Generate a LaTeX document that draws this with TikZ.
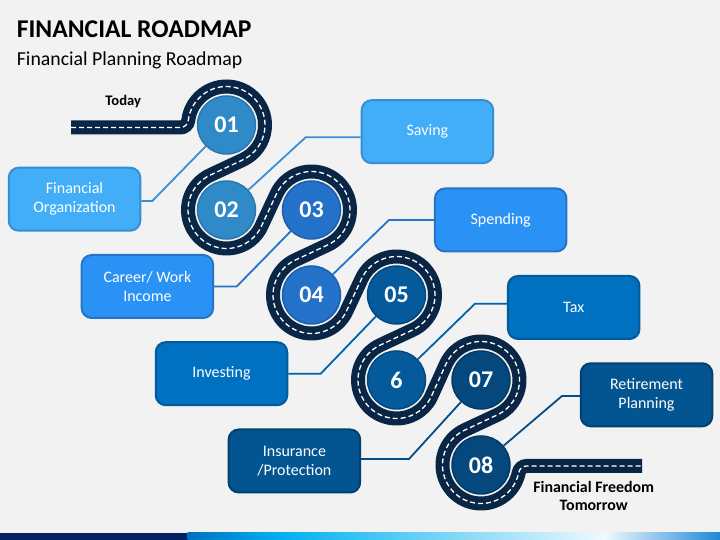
\documentclass[tikz,border=0pt]{standalone}
\usepackage{fontspec}
\setmainfont{Carlito}
\usetikzlibrary{calc,backgrounds}
\definecolor{bg}{HTML}{F2F2F2}
\definecolor{roadc}{HTML}{0A2646}
\definecolor{cA}{HTML}{308AC8}\definecolor{cAb}{HTML}{2A76B0}
\definecolor{cB}{HTML}{2371C8}\definecolor{cBb}{HTML}{1D5FA8}
\definecolor{cC}{HTML}{055A9B}\definecolor{cCb}{HTML}{044A80}
\definecolor{cD}{HTML}{05487D}\definecolor{cDb}{HTML}{033A66}
\definecolor{bA}{HTML}{42AEF7}\definecolor{bAb}{HTML}{358FD2}
\definecolor{bB}{HTML}{2A91F5}\definecolor{bBb}{HTML}{2474C8}
\definecolor{bC}{HTML}{0070C0}\definecolor{bCb}{HTML}{005A9C}
\definecolor{bD}{HTML}{035592}\definecolor{bDb}{HTML}{01406F}
\definecolor{lA}{HTML}{3A8FD4}\definecolor{lB}{HTML}{2474C8}
\definecolor{lC}{HTML}{0062A8}\definecolor{lD}{HTML}{064C84}
\definecolor{barnavy}{HTML}{002060}\definecolor{barcyan}{HTML}{00B0F0}
\definecolor{barwhite}{HTML}{F0F9FE}\definecolor{barend}{HTML}{1E88D8}
\tikzset{
  num/.style={circle, minimum size=58pt, inner sep=0pt, line width=1.5pt, text=white,
    font=\fontsize{24}{28}\selectfont\bfseries},
  box/.style={rectangle, rounded corners=10pt, minimum width=131.5pt, minimum height=63pt,
    line width=2pt, text=white, align=center, font=\fontsize{16}{19.2}\selectfont},
  link/.style={line width=1.8pt},
}
\begin{document}
\begin{tikzpicture}[x=1pt,y=1pt]
\useasboundingbox (0,0) rectangle (720,540);
% titles
\node[anchor=base west, inner sep=0pt, font=\fontsize{25.6}{30}\selectfont\bfseries] (title) at (16.7,502.7) {FINANCIAL ROADMAP};
\node[anchor=base west, inner sep=0pt, font=\fontsize{19.8}{24}\selectfont] (sub) at (16.7,474.3) {Financial Planning Roadmap};
\node[anchor=base, inner sep=0pt, font=\fontsize{14.6}{17}\selectfont\bfseries] (today) at (123.2,434) {Today};
\node[align=center, inner sep=0pt, font=\fontsize{15.9}{18.3}\selectfont\bfseries] (free) at (593.7,44) {Financial Freedom\\Tomorrow};
% circle centres
\coordinate (p1) at (226.5,415);
\coordinate (p2) at (226.5,330);
\coordinate (p3) at (311.5,330);
\coordinate (p4) at (311.5,245);
\coordinate (p5) at (396.5,245);
\coordinate (p6) at (396.5,160);
\coordinate (p7) at (481,160);
\coordinate (p8) at (481,75);
% circles
\node[num, fill=cA, draw=cAb] (c1) at (p1) {01};
\node[num, fill=cA, draw=cAb] (c2) at (p2) {02};
\node[num, fill=cB, draw=cBb] (c3) at (p3) {03};
\node[num, fill=cB, draw=cBb] (c4) at (p4) {04};
\node[num, fill=cC, draw=cCb] (c5) at (p5) {05};
\node[num, fill=cC, draw=cCb] (c6) at (p6) {6};
\node[num, fill=cD, draw=cDb] (c7) at (p7) {07};
\node[num, fill=cD, draw=cDb] (c8) at (p8) {08};
% boxes
\node[box, fill=bA, draw=bAb] (fo) at (74.5,340.8) {Financial\\Organization};
\node[box, fill=bA, draw=bAb] (sv) at (427.4,408.3) {Saving};
\node[box, fill=bB, draw=bBb] (ca) at (147.4,253.5) {Career/ Work\\Income};
\node[box, fill=bB, draw=bBb] (sp) at (500.7,320) {Spending};
\node[box, fill=bC, draw=bCb] (iv) at (221.5,166.3) {Investing};
\node[box, fill=bC, draw=bCb] (tx) at (573.7,232.5) {Tax};
\node[box, fill=bD, draw=bDb] (ins) at (294.4,79) {Insurance\\/Protection};
\node[box, fill=bD, draw=bDb] (rt) at (646.5,145.2) {Retirement\\Planning};
\begin{pgfonlayer}{background}
\fill[bg] (0,0) rectangle (720,540);
% bottom bar
\fill[barnavy] (0,0) rectangle (188,7);
\shade[left color=bC, right color=barcyan] (187.5,0) rectangle (280,7);
\shade[left color=barcyan, right color=barwhite] (279.5,0) rectangle (605,7);
\shade[left color=barwhite, right color=barend] (604.5,0) rectangle (720,7);
% connectors
\draw[link, lA] ([yshift=-1.8pt]fo.east) -- (152.3,339) -- (c1);
\draw[link, lA] ([yshift=-5.6pt]sv.west) -- (305.7,402.7) -- (c2);
\draw[link, lB] (ca.east) -- (236.7,253.5) -- (c3);
\draw[link, lB] (sp.west) -- (389,320) -- (c4);
\draw[link, lC] (iv.east) -- (320.7,166.3) -- (c5);
\draw[link, lC] ([yshift=3.8pt]tx.west) -- (475,236.3) -- (c6);
\draw[link, lD] ([yshift=2pt]ins.east) -- (409,81) -- (c7);
\draw[link, lD] ([yshift=-1.2pt]rt.west) -- (562,144) -- (c8);
% road
\pgfmathsetmacro{\ang}{asin(38.5/42.5)}
\pgfmathsetmacro{\angA}{180-\ang}
\pgfmathsetmacro{\angB}{270+\ang}
\pgfmathsetmacro{\angC}{90+\ang}
\pgfmathsetmacro{\angD}{-\ang}
\draw[white, line width=1.3pt, dash pattern=on 5pt off 3pt,
      preaction={draw=roadc, line width=14pt, solid}]
  (71,412.5) -- (180.33,412.5)
  arc[start angle=-90, end angle=-6.79, radius=8pt]
  arc[start angle=173.21, end angle=\angD, radius=38.5pt]
  -- ($(p2)+(\angA:38.5pt)$) arc[start angle=\angA, end angle=\angB, radius=38.5pt]
  -- ($(p3)+(\angC:38.5pt)$) arc[start angle=\angC, end angle=\angD, radius=38.5pt]
  -- ($(p4)+(\angA:38.5pt)$) arc[start angle=\angA, end angle=\angB, radius=38.5pt]
  -- ($(p5)+(\angC:38.5pt)$) arc[start angle=\angC, end angle=\angD, radius=38.5pt]
  -- ($(p6)+(\angA:38.5pt)$) arc[start angle=\angA, end angle=\angB, radius=38.5pt]
  -- ($(p7)+(\angC:38.5pt)$) arc[start angle=\angC, end angle=\angD, radius=38.5pt]
  -- ($(p8)+(\angA:38.5pt)$) arc[start angle=\angA, end angle=348.84, radius=38.5pt]
  arc[start angle=168.84, end angle=90, radius=8pt]
  -- (642,74);
\end{pgfonlayer}
\end{tikzpicture}
\end{document}
